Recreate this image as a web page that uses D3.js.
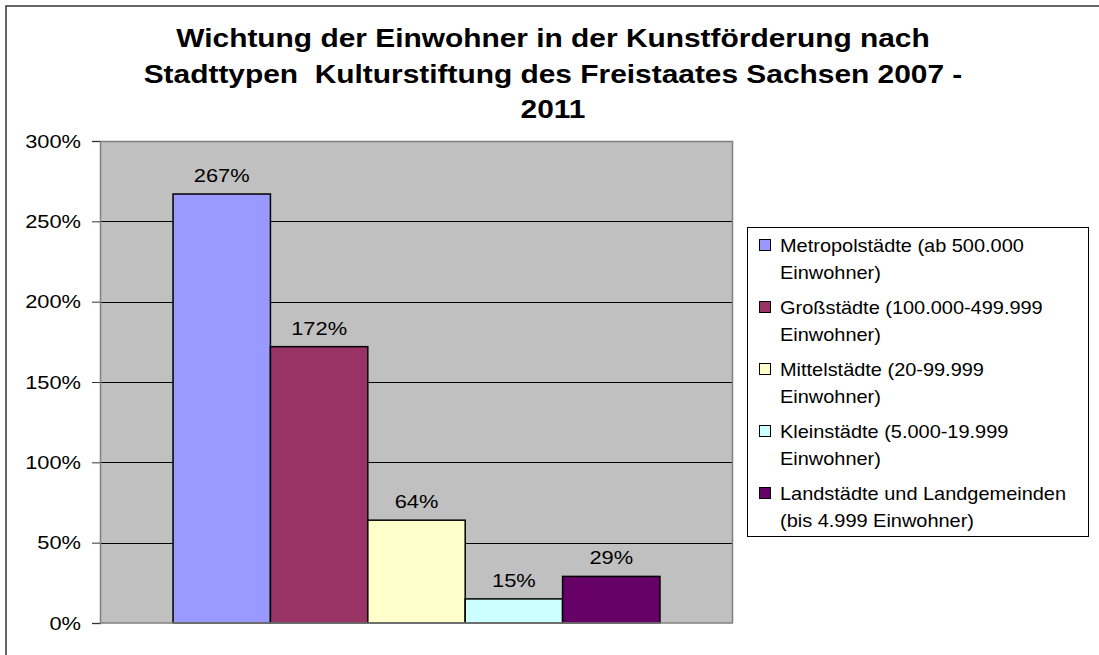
<!DOCTYPE html>
<html>
<head>
<meta charset="utf-8">
<script src="https://cdn.jsdelivr.net/npm/d3@7"></script>
<style>
  body { margin: 0; background: #fff; }
  text { font-family: "Liberation Sans", Arial, sans-serif; }
</style>
</head>
<body>
<div id="chart"></div>
<script>
// data
var titleLines = ["Wichtung der Einwohner in der Kunstförderung nach",
                  "Stadttypen  Kulturstiftung des Freistaates Sachsen 2007 -",
                  "2011"];
var seriesNames = ["Metropolstädte (ab 500.000 Einwohner)",
                   "Großstädte (100.000-499.999 Einwohner)",
                   "Mittelstädte (20-99.999 Einwohner)",
                   "Kleinstädte (5.000-19.999 Einwohner)",
                   "Landstädte und Landgemeinden (bis 4.999 Einwohner)"];
var legendLines = [["Metropolstädte (ab 500.000", "Einwohner)"],
                   ["Großstädte (100.000-499.999", "Einwohner)"],
                   ["Mittelstädte (20-99.999", "Einwohner)"],
                   ["Kleinstädte (5.000-19.999", "Einwohner)"],
                   ["Landstädte und Landgemeinden", "(bis 4.999 Einwohner)"]];
var values = [2.67, 1.72, 0.64, 0.15, 0.29];
var colors = ["#9999ff", "#993366", "#ffffcc", "#ccffff", "#660066"];
var yTicks = [0, 0.5, 1, 1.5, 2, 2.5, 3];

var W = 1099, H = 655;
var sx = 1.15; // the original text is a bit wider than Arial
var legendSx = 1.05;
var margin = {top: 141, left: 100};
var width = 733 - 100, height = 623 - 141;

var svg = d3.select("#chart").append("svg")
    .attr("width", W).attr("height", H);

// outer chart frame (cut off at right and bottom)
svg.append("path")
    .attr("d", "M6," + H + "V6H" + W)
    .attr("fill", "none").attr("stroke", "#333").attr("stroke-width", 1.5);

// title
svg.append("g").selectAll("text")
  .data(titleLines)
  .enter().append("text")
    .attr("transform", function(d, i) {
      return "translate(553," + (47 + i * 35.5) + ") scale(" + sx + ",1)";
    })
    .attr("text-anchor", "middle")
    .style("font-size", "26px").style("font-weight", "bold")
    .style("white-space", "pre")
    .text(function(d) { return d; });

var g = svg.append("g")
    .attr("transform", "translate(" + margin.left + "," + margin.top + ")");

var y = d3.scaleLinear().domain([0, 3]).range([height, 0]);
// gap width 150% -> outer padding of 0.75 band on each side
var x = d3.scaleBand().domain(seriesNames)
    .range([0, width]).paddingInner(0).paddingOuter(0.75);

g.append("rect")
    .attr("width", width).attr("height", height)
    .attr("fill", "#c0c0c0");

// gridlines
g.append("g").selectAll("line")
  .data(yTicks.slice(1, -1))
  .enter().append("line")
    .attr("x1", 0).attr("x2", width)
    .attr("y1", function(d) { return Math.round(y(d)) + 0.5; })
    .attr("y2", function(d) { return Math.round(y(d)) + 0.5; })
    .attr("stroke", "#000").attr("stroke-width", 1);

// plot border top/right
g.append("path")
    .attr("d", "M0,0.5H" + (width - 0.5) + "V" + height)
    .attr("fill", "none").attr("stroke", "#808080").attr("stroke-width", 1.5);

// y axis
var yAxis = g.append("g")
    .call(d3.axisLeft(y).tickValues(yTicks).tickSize(8).tickPadding(11)
      .tickFormat(d3.format(".0%")));
yAxis.select(".domain").attr("stroke", "#808080").attr("stroke-width", 1.5);
yAxis.selectAll(".tick line").attr("stroke", "#333");
yAxis.selectAll("text")
    .style("font-size", "19px").attr("fill", "#000")
    .attr("x", -19 / sx)
    .attr("transform", "scale(" + sx + ",1)");
yAxis.attr("font-family", null);

// bars
g.append("g").selectAll("rect")
  .data(values)
  .enter().append("rect")
    .attr("x", function(d, i) { return x(seriesNames[i]); })
    .attr("y", function(d) { return y(d); })
    .attr("width", x.bandwidth())
    .attr("height", function(d) { return y(0) - y(d); })
    .attr("fill", function(d, i) { return colors[i]; })
    .attr("stroke", "#000").attr("stroke-width", 1.5);

// x axis line
g.append("line")
    .attr("x1", 0).attr("x2", width)
    .attr("y1", height).attr("y2", height)
    .attr("stroke", "#808080").attr("stroke-width", 1.5);

// data labels
g.append("g").selectAll("text")
  .data(values)
  .enter().append("text")
    .attr("transform", function(d, i) {
      return "translate(" + (x(seriesNames[i]) + x.bandwidth() / 2) + "," +
        (y(d) - 12) + ") scale(" + sx + ",1)";
    })
    .attr("text-anchor", "middle")
    .style("font-size", "19px")
    .text(function(d) { return Math.round(d * 100) + "%"; });

// legend
var lg = svg.append("g").attr("transform", "translate(747,227)");
lg.append("rect")
    .attr("x", 0.5).attr("y", 0.5).attr("width", 341).attr("height", 309)
    .attr("fill", "#fff").attr("stroke", "#000").attr("stroke-width", 1);

var items = lg.selectAll(".item")
  .data(legendLines)
  .enter().append("g")
    .attr("transform", function(d, i) { return "translate(0," + (i * 62) + ")"; });

items.append("rect")
    .attr("x", 12.5).attr("y", 12.5).attr("width", 11).attr("height", 11)
    .attr("fill", function(d, i) { return colors[i]; })
    .attr("stroke", "#000").attr("stroke-width", 1);

items.append("text")
    .attr("transform", "translate(33,25) scale(" + legendSx + ",1)")
    .style("font-size", "19px")
    .selectAll("tspan")
    .data(function(d) { return d; })
    .enter().append("tspan")
      .attr("x", 0)
      .attr("dy", function(d, i) { return i === 0 ? 0 : 27.5; })
      .text(function(d) { return d; });
</script>
</body>
</html>
